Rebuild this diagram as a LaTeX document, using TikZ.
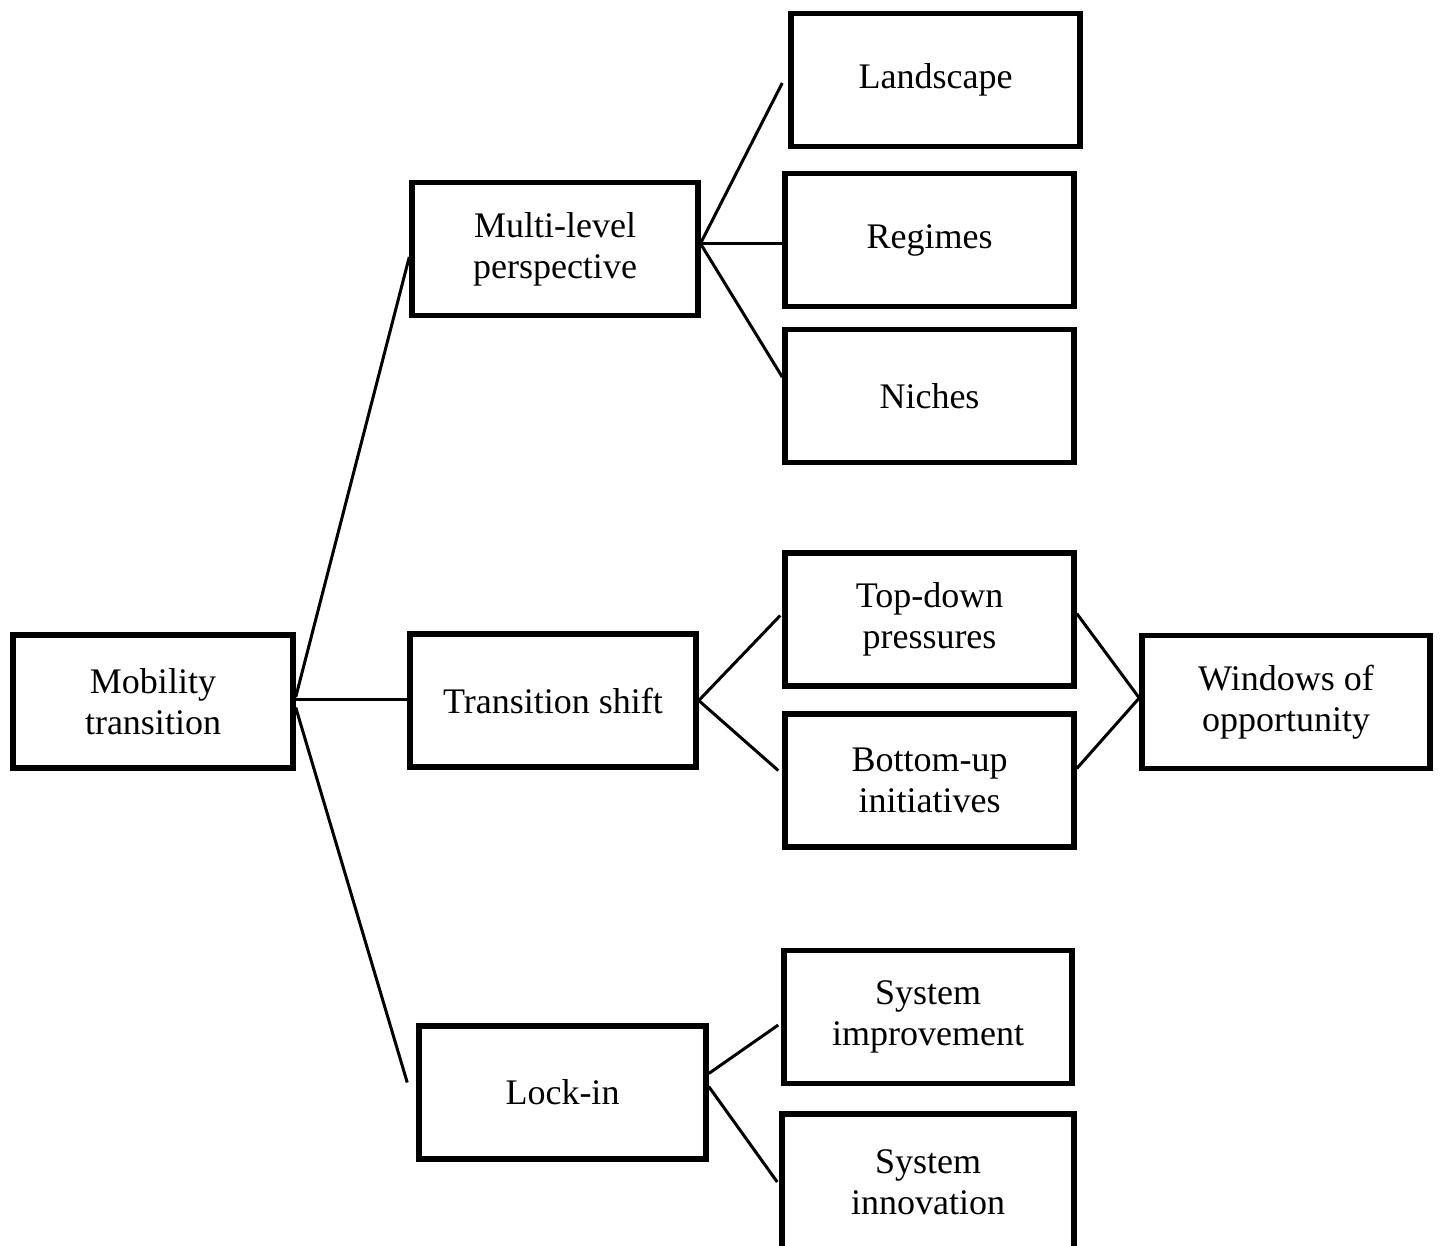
\documentclass[tikz,border=0pt]{standalone}
\usepackage{fontspec}
\setmainfont{Liberation Serif}
\begin{document}
\begin{tikzpicture}[x=1pt,y=-1pt,
  box/.style={draw, line width=5.5pt, minimum width=#1, minimum height=133pt,
    inner sep=0pt, align=center,
    font=\fontsize{36}{41}\selectfont},
  box/.default=288pt,
  link/.style={line width=3pt}]
\useasboundingbox (0,0) rectangle (1443,1245);
\clip (0,0) rectangle (1443,1245);

% boxes
\node[box=280pt] (mob)  at (153,701.5)   {Mobility\\transition};
\node[box=286pt] (mlp)  at (555,249)     {Multi-level\\perspective};
\node[box=286pt] (ts)   at (553,700.5)   {Transition shift};
\node[box=287pt] (lock) at (562.5,1092.5) {Lock-in};
\node[box=289pt] (land) at (935.5,80)    {Landscape};
\node[box=289pt] (reg)  at (929.5,240)   {Regimes};
\node[box=289pt] (nich) at (929.5,396)   {Niches};
\node[box=289pt] (top)  at (929.5,619.5) {Top-down\\pressures};
\node[box=289pt] (bot)  at (929.5,780.5) {Bottom-up\\initiatives};
\node[box=288pt] (win)  at (1286,702)    {Windows of\\opportunity};
\node[box=288pt] (simp) at (928,1017)    {System\\improvement};
\node[box=292pt, minimum height=136pt] (sinn) at (928,1182) {System\\innovation};

% first level
\draw[link] ([yshift=4.5pt]mob.east) -- ([yshift=-8pt]mlp.west);
\draw[link] ([yshift=2pt]mob.east) -- ([yshift=2pt]mob.east -| ts.west);
\draw[link] ([yshift=-6pt]mob.east) -- ([xshift=-9pt,yshift=10pt]lock.west);

% multi-level perspective
\draw[link] ([yshift=6pt]mlp.east) -- ([xshift=-6pt,yshift=-3pt]land.west);
\draw[link] ([yshift=6pt]mlp.east) -- ([yshift=6pt]mlp.east -| reg.west);
\draw[link] ([yshift=5pt]mlp.east) -- ([yshift=19pt]nich.west);

% transition shift
\draw[link] (ts.east) -- ([xshift=-2pt,yshift=4pt]top.west);
\draw[link] (ts.east) -- ([xshift=-4pt,yshift=10pt]bot.west);
\draw[link] ([yshift=6pt]top.east) -- ([yshift=4pt]win.west);
\draw[link] ([yshift=12pt]bot.east) -- ([yshift=4pt]win.west);

% lock-in
\draw[link] ([yshift=19pt]lock.east) -- ([xshift=-3pt,yshift=-8pt]simp.west);
\draw[link] ([yshift=6pt]lock.east) -- ([xshift=-2pt]sinn.west);
\end{tikzpicture}
\end{document}
